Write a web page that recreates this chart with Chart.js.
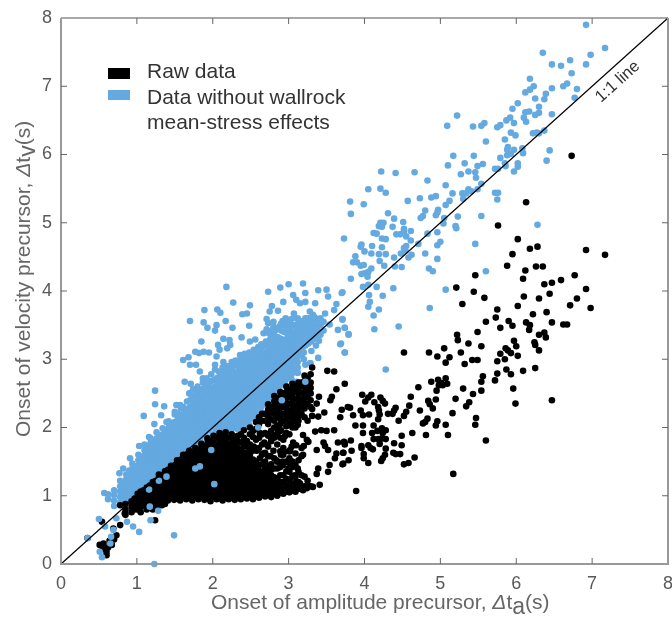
<!DOCTYPE html>
<html lang="en">
<head>
  <meta charset="UTF-8" />
  <title>Onset of velocity and amplitude precursors</title>
  <script src="https://cdn.jsdelivr.net/npm/chart.js"></script>
  <style>
    html, body { margin: 0; padding: 0; background: #fff; }
    canvas { display: block; }
  </style>
</head>
<body>
  <canvas id="scatterChart" width="672" height="617"></canvas>

  <script>
    const xTicks = [0, 1, 2, 3, 4, 5, 6, 7, 8];
    const yTicks = [0, 1, 2, 3, 4, 5, 6, 7, 8];
    const lineEnds = [[0, 0], [8, 8]];

    // Isolated points: [onset amplitude, onset velocity]
    const blueSparse = [
      [6.92,7.90],[7.17,7.56],[6.98,7.46],[6.92,7.32],[6.35,7.49],[6.47,7.32],[6.59,7.30],[6.71,7.38],[6.73,7.19],
      [6.18,7.11],[6.23,7.00],[6.18,6.95],[6.12,6.91],[6.47,6.97],[6.62,7.00],[6.67,7.04],[6.80,6.96],[6.77,6.83],
      [6.39,6.89],[6.37,6.81],[6.25,6.82],[6.02,6.75],[5.95,6.67],[6.30,6.70],[6.17,6.63],[6.12,6.62],[6.30,6.61],
      [6.25,6.58],[6.47,6.59],[6.10,6.54],[6.13,6.48],[5.92,6.54],[5.87,6.50],[5.97,6.46],[5.79,6.43],[5.75,6.40],
      [5.58,6.46],[5.54,6.42],[5.43,6.41],[5.22,6.57],[5.09,6.42],[5.93,6.32],[5.99,6.28],[6.22,6.31],[6.27,6.32],
      [6.30,6.31],[6.37,6.35],[5.85,6.22],[5.60,6.19],[6.08,6.09],[5.89,6.11],[5.88,6.07],[5.97,6.07],[5.93,6.01],
      [5.88,5.99],[6.09,6.02],[6.44,6.06],[6.40,5.91],[5.79,5.95],[5.44,5.98],[5.17,5.98],[6.02,5.87],[6.02,5.82],
      [5.85,5.87],[5.86,5.83],[5.56,5.86],[5.49,5.83],[5.32,5.87],[5.10,5.84],[5.72,5.79],[5.76,5.79],[5.97,5.75],
      [5.46,5.74],[5.37,5.75],[5.27,5.71],[5.47,5.66],[4.66,5.74],[4.41,5.73],[4.22,5.75],[4.83,5.62],[5.07,5.55],
      [5.54,5.57],[5.49,5.49],[5.37,5.49],[5.41,5.46],[5.16,5.43],[5.29,5.43],[5.34,5.43],[5.30,5.35],[5.72,5.44],
      [5.76,5.44],[5.75,5.34],[4.94,5.39],[4.88,5.37],[4.73,5.36],[4.57,5.32],[4.21,5.50],[4.28,5.44],[4.05,5.49],
      [3.81,5.31],[3.99,5.27],[3.82,5.13],[5.12,5.32],[5.07,5.26],[4.97,5.19],[4.96,5.15],[4.80,5.18],[4.94,5.11],
      [4.77,5.10],[4.74,5.07],[4.31,5.14],[4.39,5.06],[4.51,5.01],[5.05,5.07],[5.23,5.09],[5.04,4.99],[5.54,5.10],
      [5.20,4.95],[5.21,4.92],[6.28,4.97],[4.21,5.00],[4.25,5.00],[4.19,4.95],[4.23,4.94],[4.37,4.94],[4.52,4.91],
      [4.52,4.88],[4.61,4.88],[4.96,4.86],[4.83,4.84],[4.12,4.85],[4.16,4.84],[4.42,4.83],[4.47,4.83],[4.55,4.80],
      [3.73,4.77],[4.23,4.77],[4.28,4.76],[4.61,4.74],[5.00,4.72],[4.96,4.67],[4.71,4.69],[5.46,4.69],[3.96,4.68],
      [3.95,4.65],[4.10,4.66],[4.23,4.64],[4.55,4.66],[4.52,4.63],[4.00,4.58],[4.09,4.55],[4.19,4.54],[4.28,4.54],
      [4.48,4.55],[4.80,4.55],[4.54,4.59],[4.62,4.53],[4.58,4.49],[3.88,4.51],[4.39,4.49],[4.96,4.47],[4.20,4.44],
      [3.85,4.42],[3.90,4.42],[4.26,4.37],[3.95,4.37],[3.99,4.38],[4.09,4.33],[4.40,4.36],[4.49,4.35],[4.85,4.33],
      [4.90,4.29],[5.60,4.29],[3.96,4.25],[4.00,4.26],[4.05,4.28],[4.04,4.21],[3.82,4.18],[3.98,4.06],[4.05,4.09],
      [4.16,4.06],[4.38,4.04],[5.07,4.02],[3.71,3.98],[4.06,3.94],[4.24,3.93],[4.86,3.75],[4.19,3.73],[4.12,3.64],
      [4.05,3.77],[4.07,3.84],[3.71,3.58],[3.74,3.46],[3.79,3.37],[4.13,3.44],[4.45,3.48],[3.69,3.23],[3.74,3.10],
      [4.28,2.85],[2.18,4.06],[2.73,3.99],[2.89,4.05],[3.00,4.10],[3.19,4.11],[3.39,4.01],[3.50,4.02],[3.70,3.97],
      [3.06,3.94],[3.10,3.87],[3.22,3.84],[3.52,3.92],[3.22,3.97],[2.27,3.83],[2.49,3.79],[2.78,3.78],[2.93,3.84],
      [3.15,3.82],[3.35,3.82],[3.63,3.81],[1.89,3.72],[2.06,3.73],[2.10,3.68],[2.45,3.67],[2.39,3.66],[2.75,3.70],
      [2.86,3.71],[3.07,3.67],[3.28,3.70],[3.32,3.65],[3.48,3.67],[3.60,3.72],[1.70,3.56],[1.88,3.54],[2.05,3.50],
      [2.17,3.56],[2.26,3.46],[2.48,3.49],[1.93,3.46],[2.03,3.42],[2.71,3.59],[2.73,3.53],[2.80,3.55],[2.93,3.54],
      [3.02,3.58],[3.13,3.55],[3.24,3.58],[3.37,3.59],[3.71,3.59],[3.65,3.43],[3.74,3.46],[3.54,3.51],[3.79,3.36],
      [2.38,3.32],[2.14,3.30],[2.22,3.28],[1.85,3.26],[2.07,3.21],[2.23,3.21],[2.49,3.26],[2.56,3.29],[2.78,3.36],
      [3.40,3.27],[3.68,3.22],[3.74,3.10],[1.77,3.11],[1.88,3.11],[1.95,3.10],[2.09,3.14],[2.05,3.04],[1.61,2.99],
      [1.68,3.03],[1.70,2.92],[1.78,2.92],[1.83,2.82],[2.03,2.92],[2.14,2.96],[2.25,2.96],[2.36,3.06],[3.29,2.94],
      [1.63,2.67],[1.71,2.64],[1.24,2.54],[1.69,2.50],[1.24,2.34],[1.36,2.31],[1.52,2.33],[1.57,2.33],[1.09,2.17],
      [1.32,2.18],[1.50,2.23],[1.61,2.30],[1.23,2.05],[1.39,2.08],[1.16,1.86],[1.03,1.73],[0.91,1.55],[0.82,1.40],
      [0.77,1.33],[0.57,1.04],[1.49,0.42],[1.23,0.00]
    ];

    // Top edge of the blue cloud and the loose points just right of it
    const blueFringe = [
      [2.19,3.16],[1.82,3.09],[1.70,2.50],[1.74,2.56],[1.79,2.50],[1.80,2.60],[1.87,2.66],[1.87,2.72],[1.92,2.72],
      [1.98,2.78],[2.03,2.85],[2.08,2.82],[2.13,2.88],[2.19,2.90],[2.25,2.86],[2.30,2.98],[2.36,2.98],[2.42,3.08],
      [2.48,3.10],[2.54,3.14],[2.60,3.18],[2.64,3.22],[2.70,3.26],[2.76,3.30],[2.84,3.28],[2.67,3.38],[2.71,3.44],
      [2.80,3.48],[2.88,3.48],[2.92,3.56],[2.96,3.60],[3.04,3.50],[3.12,3.60],[3.20,3.50],[3.28,3.56],[3.39,3.02],
      [3.28,2.94],[3.17,3.06],[3.11,2.84],[3.02,2.77],[3.11,2.67],[3.22,2.92],[3.30,3.12],[3.36,3.20],[3.42,3.40]
    ];

    const blackSparse = [
      [6.73,5.98],[6.13,5.30],[5.76,4.96],[6.02,4.76],[6.18,4.62],[6.28,4.65],[6.92,4.60],[7.17,4.53],[5.95,4.54],
      [5.88,4.37],[6.26,4.36],[6.35,4.36],[6.12,4.30],[5.46,4.23],[6.09,4.18],[6.77,4.23],[6.59,4.16],[6.47,4.12],
      [6.37,4.10],[5.21,4.05],[5.44,3.99],[6.92,4.03],[6.44,3.96],[6.10,3.92],[5.58,3.90],[6.30,3.89],[6.80,3.89],
      [5.29,3.81],[6.71,3.79],[6.02,3.78],[6.98,3.75],[5.75,3.73],[6.22,3.66],[6.40,3.69],[5.73,3.61],[5.90,3.56],
      [5.60,3.55],[6.47,3.54],[6.13,3.54],[6.62,3.51],[6.67,3.51],[6.18,3.50],[5.95,3.49],[5.79,3.46],[6.17,3.43],
      [5.49,3.40],[6.37,3.39],[6.30,3.36],[5.22,3.36],[6.39,3.32],[5.23,3.28],[5.97,3.27],[6.24,3.25],[5.37,3.23],
      [6.25,3.21],[5.54,3.19],[6.00,3.19],[5.05,3.16],[5.86,3.16],[6.30,3.13],[5.89,3.13],[4.52,3.10],[4.85,3.10],
      [5.27,3.10],[5.79,3.08],[5.93,3.09],[6.02,3.05],[4.96,3.04],[5.12,3.03],[5.85,3.00],[5.75,2.97],[5.42,2.99],
      [5.49,2.99],[5.07,2.95],[5.32,2.93],[6.25,2.87],[5.87,2.85],[6.09,2.83],[5.75,2.79],[5.93,2.78],[5.56,2.75],
      [4.88,2.67],[4.97,2.70],[5.07,2.72],[5.01,2.65],[5.09,2.64],[4.98,2.62],[5.03,2.62],[5.54,2.67],[5.72,2.69],
      [3.74,2.64],[4.71,2.59],[5.30,2.57],[5.96,2.57],[4.95,2.54],[5.54,2.54],[5.43,2.49],[3.97,2.48],[4.09,2.48],
      [4.05,2.44],[4.21,2.44],[4.61,2.45],[6.47,2.40],[5.20,2.42],[4.94,2.41],[4.01,2.38],[4.13,2.37],[4.24,2.39],
      [4.27,2.35],[4.84,2.39],[4.86,2.34],[5.38,2.37],[5.99,2.35],[5.34,2.31],[4.59,2.32],[4.18,2.30],[3.81,2.29],
      [4.41,2.29],[4.90,2.28],[3.70,2.26],[3.95,2.25],[4.19,2.25],[4.39,2.25],[4.73,2.25],[4.55,2.23],[5.16,2.21],
      [4.31,2.20],[4.37,2.20],[3.85,2.18],[3.98,2.18],[4.06,2.19],[4.20,2.19],[4.52,2.17],[3.68,2.15],[4.18,2.12],
      [5.47,2.14],[4.83,2.13],[4.45,2.10],[4.80,2.08],[4.96,2.09],[4.77,2.06],[4.94,2.03],[3.88,2.03],[3.98,2.03],
      [4.12,2.03],[5.07,2.04],[5.46,2.04],[4.23,1.99],[4.28,1.96],[4.17,1.95],[3.98,1.92],[4.10,1.92],[4.24,1.92],
      [4.63,1.92],[4.81,1.89],[5.10,1.89],[4.49,1.88],[4.12,1.83],[4.18,1.83],[4.23,1.84],[4.28,1.83],[3.82,1.81],
      [5.60,1.81],[3.73,1.79],[3.74,1.75],[4.20,1.76],[4.39,1.77],[4.05,1.74],[3.96,1.73],[3.96,1.70],[4.08,1.70],
      [4.11,1.68],[4.49,1.74],[4.28,1.69],[3.83,1.66],[3.72,1.63],[3.99,1.61],[4.38,1.63],[4.41,1.61],[4.47,1.61],
      [4.27,1.60],[3.99,1.55],[4.66,1.56],[4.24,1.55],[4.22,1.51],[3.79,1.52],[4.05,1.48],[3.71,1.46],[4.58,1.48],
      [4.52,1.46],[5.17,1.32],[3.89,1.07],[3.31,2.88],[3.51,2.83],[3.60,2.82],[3.63,2.56],[3.57,2.45],[3.55,2.40],
      [3.78,2.30],[3.47,2.22],[3.31,2.17],[3.39,2.16],[3.35,1.94],[3.43,1.96],[3.50,1.95],[3.60,1.96],[3.19,1.89],
      [3.24,1.82],[3.46,1.78],[3.65,1.78],[3.74,1.77],[3.48,1.73],[3.37,1.67],[3.52,1.67],[3.63,1.62],[3.72,1.63],
      [3.72,1.47],[3.61,1.55],[3.54,1.45],[3.52,1.35],[3.39,1.40],[3.37,1.32],[3.41,1.16],[3.32,1.13],[3.24,1.11],
      [3.19,1.08],[1.24,0.64],[0.35,0.38],[0.51,0.28],[0.60,0.18],[0.67,0.28],[0.55,0.22],[0.62,0.24],[0.73,0.42],
      [0.69,0.52],[0.78,0.57],[0.84,0.74],[0.78,0.86],[0.54,0.62],[0.60,0.13],[0.56,0.30],[0.64,0.34],[0.70,0.36],
      [2.86,1.96],[2.90,1.96],[2.77,1.83],[2.72,1.74],[2.95,1.87],[2.94,1.65],[2.90,1.60],[3.02,1.67],[3.06,1.78],
      [3.04,1.72],[3.10,1.74],[3.26,1.79],[3.20,1.73],[3.19,1.60],[3.03,2.16],[3.13,2.16],[3.02,2.04],[3.12,2.04],
      [3.31,2.27],[3.37,2.35],[3.40,2.45],[2.80,1.66],[2.76,1.58],[2.84,1.52],[2.92,1.50],[3.00,1.40],[3.02,1.47],
      [3.08,1.30],[3.10,1.20],[3.15,1.18],[3.12,1.40],[2.66,1.62],[2.62,1.55],[2.58,1.66],[2.68,1.78],[2.78,1.90],
      [2.48,1.68],[2.54,1.72],[2.42,1.80],[2.62,1.92]
    ];

    // Dense clouds, read column by column: one x and the y values stacked above it
    const blueCloudX = [0.62,0.70,0.78,0.82,0.86,0.90,0.94,0.98,1.02,1.06,1.10,1.14,1.18,1.22,1.26,1.30,1.34,1.38,1.42,1.46,
      1.50,1.54,1.58,1.62,1.66,1.70,1.74,1.78,1.82,1.86,1.90,1.94,1.98,2.02,2.06,2.10,2.14,2.18,2.22,2.26,2.30,2.34,2.38,
      2.42,2.46,2.50,2.54,2.58,2.62,2.66,2.70,2.74,2.78,2.82,2.86,2.90,2.94,2.98,3.02,3.06,3.10,3.14,3.18,3.22,3.26,3.30,
      3.34,3.38,3.42,3.46];
    const blueCloudY = [
      [0.95,1.02],
      [0.85,0.93,1.01,1.08],
      [0.90,0.98,1.06,1.14,1.22],
      [0.94,1.02,1.10,1.18],
      [0.93,1.01,1.09,1.16,1.24,1.31],
      [0.97,1.05,1.13,1.21,1.29,1.37],
      [1.00,1.08,1.16,1.24,1.32,1.40,1.47],
      [1.03,1.11,1.19,1.27,1.35,1.43],
      [1.05,1.12,1.20,1.28,1.36,1.44,1.52,1.60],
      [1.08,1.16,1.24,1.32,1.40,1.48,1.56],
      [1.12,1.20,1.28,1.36,1.44,1.52,1.60,1.67,1.75],
      [1.16,1.24,1.32,1.40,1.48,1.56,1.64,1.72],
      [1.20,1.28,1.36,1.44,1.52,1.60,1.68,1.77,1.84],
      [1.24,1.32,1.40,1.48,1.56,1.64,1.72,1.80],
      [1.28,1.36,1.44,1.52,1.60,1.68,1.76,1.84,1.93],
      [1.32,1.40,1.48,1.56,1.64,1.72,1.80,1.88],
      [1.34,1.42,1.50,1.58,1.66,1.74,1.82,1.90,1.99],
      [1.40,1.48,1.56,1.64,1.72,1.80,1.88,1.96],
      [1.44,1.52,1.60,1.68,1.76,1.84,1.92,2.00,2.09],
      [1.48,1.56,1.64,1.72,1.80,1.88,1.96,2.04],
      [1.52,1.60,1.68,1.76,1.84,1.92,2.00,2.08,2.19],
      [1.56,1.64,1.72,1.80,1.88,1.96,2.04,2.12,2.20],
      [1.60,1.68,1.76,1.84,1.92,2.00,2.08,2.16,2.28],
      [1.64,1.72,1.80,1.88,1.96,2.04,2.12,2.20,2.28],
      [1.68,1.76,1.84,1.92,2.00,2.08,2.16,2.26,2.38],
      [1.72,1.80,1.88,1.96,2.04,2.12,2.20,2.30,2.40],
      [1.76,1.84,1.92,2.00,2.08,2.16,2.24,2.33,2.45],
      [1.80,1.88,1.96,2.04,2.12,2.20,2.28,2.38,2.48],
      [1.84,1.92,2.00,2.08,2.16,2.24,2.32,2.42,2.54],
      [1.88,1.96,2.04,2.12,2.20,2.28,2.36,2.46,2.56],
      [1.93,2.00,2.08,2.16,2.24,2.32,2.40,2.49,2.61],
      [1.96,2.04,2.12,2.20,2.28,2.36,2.44,2.54,2.64],
      [2.00,2.08,2.16,2.24,2.32,2.40,2.48,2.57,2.68],
      [2.04,2.12,2.20,2.28,2.36,2.44,2.52,2.60,2.70],
      [2.09,2.16,2.24,2.32,2.40,2.48,2.56,2.64,2.73],
      [2.12,2.20,2.28,2.36,2.44,2.52,2.60,2.68,2.76],
      [2.16,2.24,2.32,2.40,2.48,2.56,2.64,2.72,2.81],
      [2.20,2.28,2.36,2.44,2.52,2.60,2.68,2.76,2.84],
      [2.24,2.32,2.40,2.48,2.56,2.64,2.72,2.78,2.85],
      [2.28,2.36,2.44,2.52,2.60,2.68,2.76,2.88],
      [2.32,2.40,2.48,2.56,2.64,2.72,2.80,2.92],
      [2.36,2.44,2.52,2.60,2.68,2.76,2.84,2.92],
      [2.38,2.46,2.54,2.62,2.70,2.78,2.86,2.96],
      [2.44,2.52,2.60,2.68,2.76,2.84,2.92,3.00],
      [2.47,2.54,2.62,2.70,2.78,2.86,2.94,3.03],
      [2.50,2.58,2.66,2.74,2.82,2.90,2.98,3.08],
      [2.54,2.62,2.70,2.78,2.86,2.94,3.02,3.08],
      [2.56,2.66,2.74,2.82,2.90,2.98,3.06,3.12],
      [2.63,2.70,2.78,2.86,2.94,3.02,3.12],
      [2.60,2.66,2.74,2.82,2.90,2.98,3.06,3.18],
      [2.71,2.78,2.86,2.94,3.02,3.10,3.21],
      [2.74,2.82,2.90,2.98,3.06,3.14,3.26,3.38],
      [2.80,2.88,2.96,3.04,3.12,3.20,3.28,3.42],
      [2.82,2.90,2.98,3.06,3.14,3.22,3.34,3.42],
      [2.89,2.96,3.04,3.12,3.20,3.32,3.46],
      [2.90,2.98,3.06,3.14,3.22,3.30,3.42,3.52],
      [2.97,3.04,3.12,3.20,3.28,3.40,3.50],
      [2.98,3.06,3.14,3.22,3.30,3.38,3.46,3.54],
      [3.03,3.11,3.19,3.27,3.35,3.44,3.54],
      [3.06,3.14,3.22,3.30,3.38,3.50,3.60],
      [3.11,3.19,3.27,3.35,3.42,3.50],
      [3.14,3.22,3.30,3.38,3.46,3.56],
      [3.17,3.25,3.33,3.41,3.50,3.56],
      [3.20,3.28,3.36,3.44,3.52,3.60],
      [3.23,3.31,3.39,3.47,3.60],
      [3.26,3.34,3.42,3.50,3.60],
      [3.30,3.38,3.46,3.54,3.62],
      [3.32,3.42,3.52],
      [3.36,3.50,3.60],
      [3.42,3.55]
    ];

    // Blue that fills the wedge between the 1:1 line and the top of the black cloud
    const blueUnderX = [1.76,1.84,1.92,2.00,2.04,2.08,2.12,2.16,2.20,2.24,2.28,2.32,2.36,2.40,2.44,2.48,2.52,2.56,2.60,2.64,
      2.68,2.72,2.76,2.80,2.84,2.88,2.92,2.96,3.00,3.04,3.08,3.12,3.20];
    const blueUnderY = [
      [1.70,1.76],
      [1.74,1.80],
      [1.78,1.86],
      [1.82,1.90],
      [1.86,1.94,2.00],
      [1.86,1.94,2.02],
      [1.90,1.98,2.06],
      [1.92,2.00,2.08],
      [1.96,2.04,2.12],
      [1.94,2.02,2.10,2.18],
      [2.00,2.08,2.16,2.24],
      [1.98,2.06,2.14,2.22,2.28],
      [2.04,2.12,2.20,2.28],
      [2.00,2.08,2.16,2.24,2.32],
      [2.08,2.16,2.24,2.32,2.40],
      [2.04,2.12,2.20,2.28,2.36,2.44],
      [2.16,2.24,2.32,2.40,2.48],
      [2.12,2.20,2.28,2.36,2.44,2.52],
      [2.26,2.34,2.42,2.50,2.56],
      [2.22,2.30,2.38,2.46,2.54],
      [2.36,2.44,2.52,2.60],
      [2.32,2.40,2.48,2.56,2.64],
      [2.46,2.54,2.62,2.70],
      [2.42,2.50,2.58,2.66,2.74],
      [2.56,2.64,2.72,2.80],
      [2.52,2.60,2.68,2.76,2.84],
      [2.66,2.74,2.82,2.90],
      [2.62,2.70,2.78,2.86,2.94],
      [2.74,2.82,2.90,2.98],
      [2.70,2.78,2.86,2.94],
      [2.84,2.92,3.00],
      [2.80,2.88,2.96,3.04],
      [3.00,3.10]
    ];

    const blackCloudX = [0.85,0.93,0.97,1.01,1.05,1.09,1.13,1.17,1.21,1.25,1.29,1.33,1.37,1.41,1.45,1.49,1.53,1.57,1.61,1.65,
      1.69,1.73,1.77,1.81,1.85,1.89,1.93,1.97,2.01,2.05,2.09,2.13,2.17,2.21,2.25,2.29,2.33,2.37,2.41,2.45,2.49,2.53,2.57,
      2.61,2.65,2.69,2.73,2.77,2.81,2.85,2.89,2.93,2.97,3.01,3.05,3.09,3.13,3.17,3.21,3.25,3.29];
    const blackCloudY = [
      [0.72,0.80,0.88],
      [0.76,0.84,0.92],
      [0.80,0.88,0.96],
      [0.80,0.88,0.96,1.03],
      [0.76,0.84,0.92,1.00,1.06],
      [0.85,0.92,1.00,1.08],
      [0.80,0.88,0.96,1.04,1.12],
      [0.84,0.92,1.00,1.08,1.15],
      [0.80,0.88,0.96,1.04,1.12,1.20],
      [0.82,0.90,0.98,1.06,1.14,1.22],
      [0.86,0.94,1.02,1.10,1.18,1.26,1.31],
      [0.86,0.93,1.01,1.08,1.16,1.24,1.30],
      [0.88,0.96,1.04,1.12,1.20,1.28,1.36],
      [0.93,1.00,1.08,1.16,1.24,1.32,1.38],
      [0.97,1.05,1.13,1.21,1.29,1.37,1.44],
      [0.94,1.02,1.10,1.18,1.26,1.34,1.42],
      [0.98,1.06,1.14,1.22,1.30,1.38,1.46,1.52],
      [0.93,1.00,1.08,1.16,1.24,1.32,1.40,1.47],
      [0.98,1.06,1.14,1.22,1.30,1.38,1.46,1.54,1.60],
      [0.95,1.03,1.11,1.19,1.27,1.35,1.43,1.51,1.58],
      [0.97,1.05,1.13,1.21,1.29,1.37,1.45,1.53,1.61,1.66],
      [0.93,1.01,1.09,1.17,1.25,1.33,1.41,1.49,1.56,1.63],
      [0.98,1.06,1.14,1.22,1.30,1.38,1.46,1.54,1.62,1.70],
      [0.95,1.03,1.11,1.19,1.27,1.35,1.43,1.51,1.59,1.66],
      [0.99,1.07,1.15,1.23,1.31,1.39,1.47,1.55,1.63,1.70,1.76],
      [0.94,1.02,1.10,1.18,1.26,1.34,1.42,1.50,1.58,1.66,1.72],
      [0.96,1.04,1.12,1.20,1.28,1.36,1.44,1.52,1.60,1.68,1.76,1.84],
      [0.92,1.00,1.08,1.16,1.24,1.32,1.40,1.48,1.56,1.64,1.72,1.80],
      [0.98,1.06,1.14,1.22,1.30,1.38,1.46,1.54,1.62,1.70,1.78,1.88],
      [0.95,1.03,1.11,1.19,1.27,1.35,1.43,1.51,1.59,1.67,1.75,1.85],
      [0.96,1.04,1.12,1.20,1.28,1.36,1.44,1.52,1.60,1.68,1.76,1.84,1.92],
      [0.93,1.01,1.09,1.17,1.25,1.33,1.41,1.49,1.57,1.65,1.73,1.81,1.89],
      [0.98,1.06,1.14,1.22,1.30,1.38,1.46,1.54,1.62,1.70,1.78,1.86,1.93],
      [0.95,1.03,1.11,1.19,1.27,1.35,1.43,1.51,1.59,1.67,1.75,1.85],
      [0.97,1.05,1.13,1.21,1.29,1.37,1.45,1.53,1.61,1.69,1.77,1.85,1.90],
      [0.94,1.02,1.10,1.18,1.26,1.34,1.42,1.50,1.58,1.66,1.74,1.82],
      [0.98,1.06,1.14,1.22,1.30,1.38,1.46,1.54,1.62,1.70,1.80,1.88],
      [0.95,1.03,1.11,1.19,1.27,1.35,1.43,1.51,1.59,1.67,1.78,1.90],
      [0.99,1.07,1.15,1.23,1.31,1.39,1.47,1.55,1.63,1.72,1.85,1.96],
      [0.96,1.04,1.12,1.20,1.28,1.36,1.44,1.52,1.60,1.72,1.80],
      [0.98,1.06,1.14,1.22,1.30,1.38,1.46,1.54,1.60,1.75,1.90,2.00],
      [0.95,1.03,1.11,1.19,1.27,1.35,1.43,1.53,1.66,1.86,1.95],
      [1.00,1.08,1.16,1.24,1.32,1.40,1.50,1.68,1.82,1.98,2.08],
      [0.97,1.05,1.13,1.21,1.29,1.37,1.45,1.70,1.85,2.05,2.15],
      [1.02,1.10,1.18,1.26,1.34,1.46,1.60,1.75,1.90,2.10,2.20],
      [0.99,1.07,1.15,1.23,1.31,1.39,1.50,1.63,1.92,2.10,2.20],
      [1.02,1.10,1.18,1.26,1.34,1.42,1.58,1.72,1.88,2.05,2.16,2.26,2.34],
      [0.98,1.06,1.14,1.22,1.30,1.38,1.46,1.80,1.95,2.12,2.22,2.30],
      [1.03,1.11,1.19,1.27,1.40,1.55,1.85,2.00,2.10,2.20,2.30,2.38,2.46],
      [1.00,1.08,1.16,1.25,1.40,1.50,1.75,1.90,2.02,2.15,2.25,2.35,2.42],
      [1.04,1.12,1.20,1.30,1.42,1.65,1.85,1.95,2.05,2.13,2.21,2.29,2.37,2.45,2.52],
      [1.03,1.10,1.20,1.30,1.45,1.60,1.70,1.82,2.10,2.20,2.30,2.40,2.50],
      [1.06,1.15,1.25,1.36,1.50,1.92,2.02,2.12,2.20,2.28,2.36,2.44,2.52,2.60],
      [1.05,1.12,1.22,1.35,1.55,1.65,1.90,2.05,2.15,2.25,2.35,2.45,2.55],
      [1.08,1.18,1.28,1.42,1.50,2.00,2.08,2.18,2.26,2.34,2.42,2.50,2.58,2.64],
      [1.06,1.14,1.28,1.45,1.62,2.00,2.12,2.22,2.32,2.42,2.52,2.60],
      [1.10,1.20,1.35,1.52,2.10,2.18,2.26,2.34,2.42,2.50,2.58,2.66],
      [1.10,1.30,1.58,1.70,2.20,2.30,2.40,2.50,2.60,2.66],
      [1.14,1.28,2.15,2.28,2.36,2.44,2.52,2.60,2.68,2.76],
      [1.15,1.22,2.10,2.35,2.45,2.55,2.62,2.72],
      [1.14,2.30,2.40,2.50,2.58,2.66,2.78]
    ];

    // Blue points that sit on top of the black ones
    const blueOnTop = [
      [0.35,0.38],[0.50,0.66],[0.51,0.18],[0.54,0.10],[0.65,0.30],[0.66,0.40],[0.69,0.50],[0.58,0.55],[0.73,0.67],
      [0.87,0.62],[0.95,0.55],[1.03,0.47],[1.18,0.64],[1.17,0.84],[1.28,0.78],[1.16,1.09],[1.29,1.22],[1.39,1.28],
      [1.77,1.40],[1.83,1.43],[1.98,1.67],[2.02,1.17],[2.60,2.00],[2.91,2.40],[3.22,2.67]
    ];

    const blueColor = '#64a9e0';
    const labelColor = '#595959';
    const sansFont = '"Liberation Sans", Arial, sans-serif';

    function toPoints(pairs) {
      return pairs.map(p => ({ x: p[0], y: p[1] }));
    }

    function cloudPoints(xs, ys) {
      return xs.flatMap((x, i) => ys[i].map(y => ({ x: x, y: y })));
    }

    // Writes a row of text pieces, some of them lowered like a subscript
    function drawRuns(ctx, runs, x, y) {
      runs.forEach(run => {
        ctx.font = (run.italic ? 'italic ' : '') + run.size + 'px ' + sansFont;
        ctx.fillText(run.text, x, y + (run.drop || 0));
        x += ctx.measureText(run.text).width;
      });
    }

    const frameAndNotes = {
      id: 'frameAndNotes',
      afterDatasetsDraw(chart) {
        const { ctx, chartArea: a, scales } = chart;
        ctx.save();

        // box
        ctx.strokeStyle = '#555';
        ctx.lineWidth = 1.2;
        ctx.beginPath();
        ctx.moveTo(a.left, a.top);
        ctx.lineTo(a.right, a.top);
        ctx.stroke();
        ctx.strokeStyle = '#999';
        ctx.lineWidth = 2;
        ctx.beginPath();
        ctx.moveTo(a.left, a.top);
        ctx.lineTo(a.left, a.bottom);
        ctx.lineTo(a.right, a.bottom);
        ctx.lineTo(a.right, a.top);
        ctx.stroke();

        // inward ticks on all four sides
        ctx.strokeStyle = '#666';
        ctx.lineWidth = 1;
        ctx.beginPath();
        xTicks.slice(1, -1).forEach(t => {
          const px = scales.x.getPixelForValue(t);
          ctx.moveTo(px, a.bottom);
          ctx.lineTo(px, a.bottom - 6);
          ctx.moveTo(px, a.top);
          ctx.lineTo(px, a.top + 6);
        });
        yTicks.slice(1, -1).forEach(t => {
          const py = scales.y.getPixelForValue(t);
          ctx.moveTo(a.left, py);
          ctx.lineTo(a.left + 6, py);
          ctx.moveTo(a.right, py);
          ctx.lineTo(a.right - 6, py);
        });
        ctx.stroke();

        // legend
        ctx.fillStyle = '#000';
        ctx.fillRect(108, 68, 22, 11);
        ctx.fillStyle = blueColor;
        ctx.fillRect(108, 90, 22, 10);
        ctx.fillStyle = '#333';
        ctx.textAlign = 'left';
        ctx.textBaseline = 'alphabetic';
        ctx.font = '21px ' + sansFont;
        ctx.fillText('Raw data', 147, 78);
        ctx.fillText('Data without wallrock', 147, 104);
        ctx.fillText('mean-stress effects', 147, 129);

        // line label
        ctx.save();
        ctx.translate(601, 103);
        ctx.rotate(-Math.atan2(scales.y.height / 8, scales.x.width / 8));
        ctx.font = '16.5px ' + sansFont;
        ctx.fillStyle = '#333';
        ctx.fillText('1:1 line', 0, 0);
        ctx.restore();

        // axis titles, written here because of the subscripts
        ctx.fillStyle = '#666';
        drawRuns(ctx, [
          { text: 'Onset of amplitude precursor, ', size: 21 },
          { text: 'Δ', size: 21, italic: true },
          { text: 't', size: 21 },
          { text: 'a', size: 23, drop: 5 },
          { text: '(s)', size: 21 }
        ], 211, 609);

        ctx.save();
        ctx.translate(30, 437);
        ctx.rotate(-Math.PI / 2);
        drawRuns(ctx, [
          { text: 'Onset of velocity precursor, ', size: 21 },
          { text: 'Δ', size: 21, italic: true },
          { text: 't', size: 21 },
          { text: 'v', size: 23, drop: 5 },
          { text: '(s)', size: 21 }
        ], 0, 0);
        ctx.restore();

        ctx.restore();
      }
    };

    const dot = { pointRadius: 3.3, pointHoverRadius: 3.3, pointBorderWidth: 0 };

    new Chart(document.getElementById('scatterChart'), {
      type: 'scatter',
      data: {
        datasets: [
          {
            label: '1:1 line',
            data: toPoints(lineEnds),
            showLine: true,
            borderColor: '#000',
            borderWidth: 1.2,
            pointRadius: 0,
            order: 0
          },
          {
            label: 'Data without wallrock mean-stress effects (on top)',
            data: toPoints(blueOnTop),
            backgroundColor: blueColor,
            ...dot,
            order: 1
          },
          {
            label: 'Raw data',
            data: toPoints(blackSparse).concat(cloudPoints(blackCloudX, blackCloudY)),
            backgroundColor: '#000',
            ...dot,
            order: 2
          },
          {
            label: 'Data without wallrock mean-stress effects',
            data: toPoints(blueSparse).concat(toPoints(blueFringe), cloudPoints(blueCloudX, blueCloudY), cloudPoints(blueUnderX, blueUnderY)),
            backgroundColor: blueColor,
            ...dot,
            order: 3
          }
        ]
      },
      options: {
        responsive: false,
        animation: false,
        clip: false,
        layout: { padding: { left: 0, right: 4, top: 18, bottom: 0 } },
        plugins: { legend: { display: false }, tooltip: { enabled: false } },
        scales: {
          x: {
            type: 'linear',
            min: 0,
            max: 8,
            grid: { display: false, drawTicks: false },
            border: { display: false },
            ticks: {
              stepSize: 1,
              maxRotation: 0,
              padding: 9,
              color: labelColor,
              font: { family: sansFont, size: 18 }
            },
            afterFit(s) { s.height = 53; s.paddingRight = 0; s.paddingLeft = 0; }
          },
          y: {
            type: 'linear',
            min: 0,
            max: 8,
            grid: { display: false, drawTicks: false },
            border: { display: false },
            ticks: {
              stepSize: 1,
              padding: 9,
              color: labelColor,
              font: { family: sansFont, size: 18 }
            },
            afterFit(s) { s.width = 61; s.paddingTop = 0; s.paddingBottom = 0; }
          }
        }
      },
      plugins: [frameAndNotes]
    });
  </script>
</body>
</html>
